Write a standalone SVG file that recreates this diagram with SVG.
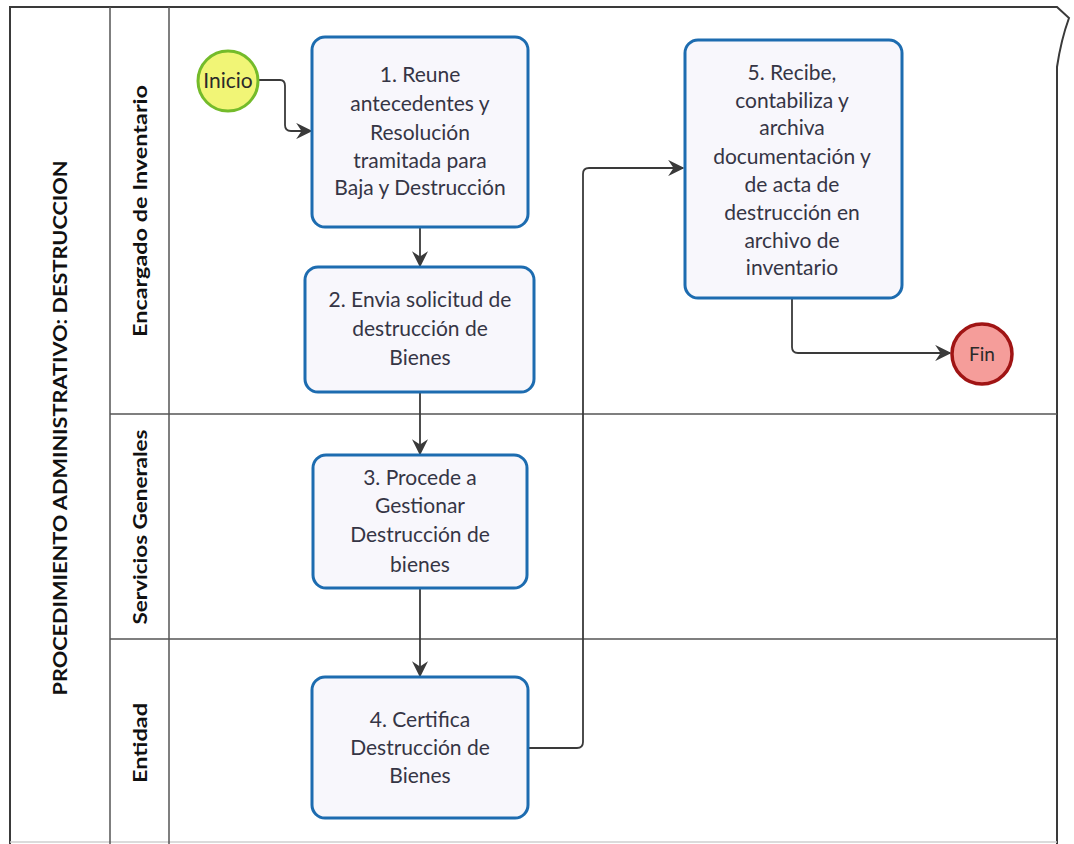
<svg xmlns="http://www.w3.org/2000/svg" width="1074" height="844" viewBox="0 0 1074 844">
  <style>
    .frame { fill: none; stroke: #3a3a3a; stroke-width: 2; }
    .lane { fill: none; stroke: #555; stroke-width: 1.5; }
    .title { font-family: Lato, "Liberation Sans", sans-serif; font-weight: bold; font-size: 18px; fill: #111; }
    .lanelabel { font-family: Lato, "Liberation Sans", sans-serif; font-weight: bold; font-size: 19px; fill: #111; }
    .task rect { fill: #f8f7fc; stroke: #1d6cb0; stroke-width: 3; }
    .task text { font-family: Lato, "Liberation Sans", sans-serif; font-size: 21px; fill: #353545; text-anchor: middle; }
    .ev text { font-family: Lato, "Liberation Sans", sans-serif; font-size: 19px; fill: #2a2a2a; text-anchor: middle; }
    .ev text.big { font-size: 21px; }
    .flow { fill: none; stroke: #3a3a3a; stroke-width: 1.8; marker-end: url(#arrow); }
  </style>
  <defs>
    <marker id="arrow" viewBox="0 0 12 12" refX="11" refY="6" markerWidth="9" markerHeight="9" markerUnits="strokeWidth" orient="auto">
      <path d="M0,0 L12,6 L0,12 L4,6 z" fill="#3a3a3a"/>
    </marker>
  </defs>

  <rect width="1074" height="844" fill="#ffffff"/>

  <!-- pool frame with the chevron corner -->
  <path class="frame" d="M10,844 V7 H1057 L1069,18 Q1061,40 1057,67 V844"/>
  <line x1="10" y1="842" x2="1057" y2="842" stroke="#cfcfcf" stroke-width="1.5"/>
  <!-- header columns -->
  <line class="lane" x1="110" y1="7" x2="110" y2="844"/>
  <line class="lane" x1="169" y1="7" x2="169" y2="844"/>
  <!-- lane dividers -->
  <line class="lane" x1="110" y1="414" x2="1057" y2="414"/>
  <line class="lane" x1="110" y1="639" x2="1057" y2="639"/>

  <text class="title" transform="translate(67,428) rotate(-90)" text-anchor="middle" textLength="535" lengthAdjust="spacingAndGlyphs">PROCEDIMIENTO ADMINISTRATIVO:  DESTRUCCION</text>
  <text class="lanelabel" transform="translate(147,211) rotate(-90)" text-anchor="middle" textLength="252" lengthAdjust="spacingAndGlyphs">Encargado de Inventario</text>
  <text class="lanelabel" transform="translate(147,527) rotate(-90)" text-anchor="middle" textLength="195" lengthAdjust="spacingAndGlyphs">Servicios Generales</text>
  <text class="lanelabel" transform="translate(147,743) rotate(-90)" text-anchor="middle" textLength="80" lengthAdjust="spacingAndGlyphs">Entidad</text>

  <!-- connectors -->
  <g id="connectors">
    <path class="flow" d="M258,80 H280 Q285,80 285,86 V125 Q285,131 291,131 H311"/>
    <path class="flow" d="M420,228 V266"/>
    <path class="flow" d="M420,393 V454"/>
    <path class="flow" d="M420,589 V676"/>
    <path class="flow" d="M529,748 H577 Q583,748 583,742 V174 Q583,168 589,168 H683"/>
    <path class="flow" d="M792,299 V347 Q792,353 798,353 H950"/>
  </g>

  <g id="inicio" class="ev">
    <circle cx="228" cy="81" r="30" fill="#f1f576" stroke="#74bb2a" stroke-width="3"/>
    <text class="big" x="228" y="88">Inicio</text>
  </g>

  <g id="task1" class="task">
    <rect x="312" y="37" width="216" height="190" rx="13"/>
    <text x="420" y="82">1. Reune</text>
    <text x="420" y="111">antecedentes y</text>
    <text x="420" y="140">Resolución</text>
    <text x="420" y="168">tramitada para</text>
    <text x="420" y="195">Baja y Destrucción</text>
  </g>

  <g id="task2" class="task">
    <rect x="305" y="267" width="229" height="125" rx="13"/>
    <text x="420" y="307">2. Envia solicitud de</text>
    <text x="420" y="336">destrucción de</text>
    <text x="420" y="365">Bienes</text>
  </g>

  <g id="task3" class="task">
    <rect x="313" y="455" width="214" height="133" rx="13"/>
    <text x="420" y="485">3. Procede a</text>
    <text x="420" y="513">Gestionar</text>
    <text x="420" y="542">Destrucción de</text>
    <text x="420" y="572">bienes</text>
  </g>

  <g id="task4" class="task">
    <rect x="312" y="677" width="216" height="141" rx="13"/>
    <text x="420" y="727">4. Certifica</text>
    <text x="420" y="755">Destrucción de</text>
    <text x="420" y="783">Bienes</text>
  </g>

  <g id="task5" class="task">
    <rect x="685" y="40" width="217" height="258" rx="13"/>
    <text x="792" y="80">5. Recibe,</text>
    <text x="792" y="108">contabiliza y</text>
    <text x="792" y="135">archiva</text>
    <text x="792" y="164">documentación y</text>
    <text x="792" y="192">de acta de</text>
    <text x="792" y="220">destrucción  en</text>
    <text x="792" y="248">archivo de</text>
    <text x="792" y="275">inventario</text>
  </g>

  <g id="fin" class="ev">
    <circle cx="982" cy="354" r="30" fill="#f59d9a" stroke="#a01414" stroke-width="3.5"/>
    <text x="982" y="361">Fin</text>
  </g>
</svg>
